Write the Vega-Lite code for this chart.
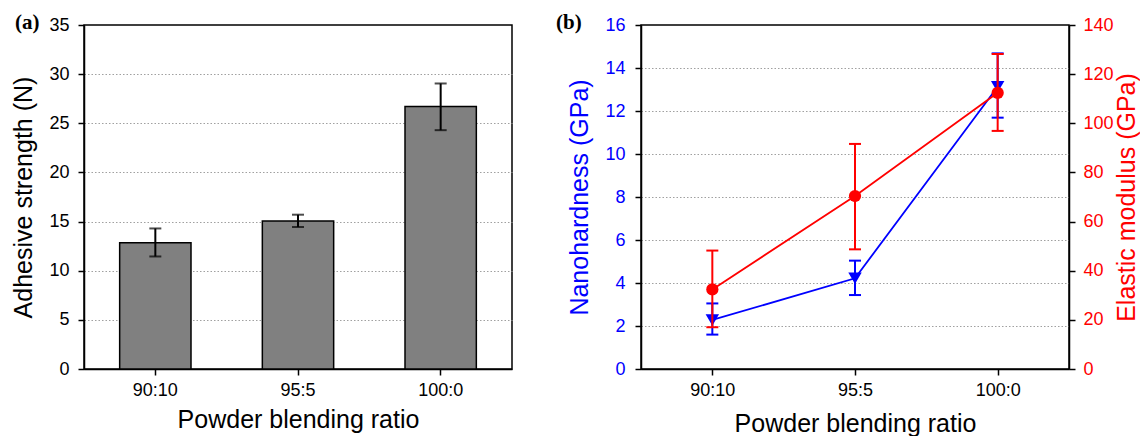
{
  "$schema": "https://vega.github.io/schema/vega-lite/v6.json",
  "background": "white",
  "padding": {"left": 11, "top": 11, "right": 0, "bottom": 0},
  "spacing": 42,
  "config": {
    "font": "Liberation Sans",
    "view": {"stroke": "black", "strokeWidth": 1.5},
    "axis": {
      "domainColor": "black", "domainWidth": 1.5,
      "tickColor": "black", "tickWidth": 1.5,
      "labelFontSize": 18, "labelColor": "black", "labelFont": "Liberation Sans",
      "titleFontSize": 25, "titleFontWeight": "normal", "titleColor": "black", "titleFont": "Liberation Sans",
      "gridColor": "#a0a0a0", "gridDash": [1.5, 2], "gridWidth": 1.2
    },
    "title": {"font": "Liberation Serif", "fontWeight": "bold", "fontSize": 21, "anchor": "start", "frame": "bounds", "offset": -17, "color": "black"}
  },
  "datasets": {
    "adh": [
      {"ratio": "90:10", "strength": 12.85, "lo": 11.45, "hi": 14.3},
      {"ratio": "95:5", "strength": 15.05, "lo": 14.45, "hi": 15.7},
      {"ratio": "100:0", "strength": 26.7, "lo": 24.3, "hi": 29.05}
    ],
    "nano": [
      {"ratio": "90:10", "hardness": 2.28, "hlo": 1.6, "hhi": 3.05, "modulus": 32.4, "mlo": 17.0, "mhi": 48.2},
      {"ratio": "95:5", "hardness": 4.22, "hlo": 3.44, "hhi": 5.04, "modulus": 70.4, "mlo": 48.7, "mhi": 91.6},
      {"ratio": "100:0", "hardness": 13.13, "hlo": 11.69, "hhi": 14.68, "modulus": 112.4, "mlo": 96.9, "mhi": 128.2}
    ]
  },
  "hconcat": [
    {
      "width": 428, "height": 344,
      "title": {"text": "(a)", "dx": 3},
      "data": {"name": "adh"},
      "encoding": {
        "x": {
          "field": "ratio", "type": "nominal", "sort": ["90:10", "95:5", "100:0"],
          "scale": {"paddingInner": 0.5, "paddingOuter": 0.25},
          "axis": {"title": "Powder blending ratio", "labelAngle": 0, "tickSize": 6, "labelPadding": 6, "titlePadding": 8}
        }
      },
      "layer": [
        {
          "mark": {"type": "bar", "color": "#808080", "stroke": "black", "strokeWidth": 1.5},
          "encoding": {
            "y": {
              "field": "strength", "type": "quantitative",
              "scale": {"domain": [0, 35], "nice": false},
              "axis": {
                "title": "Adhesive strength (N)",
                "values": [0, 2.5, 5, 7.5, 10, 12.5, 15, 17.5, 20, 22.5, 25, 27.5, 30, 32.5, 35],
                "labelExpr": "datum.value % 5 == 0 ? format(datum.value, 'd') : ''",
                "grid": true,
                "tickSize": {"condition": {"test": "datum.value % 5 == 0", "value": 6}, "value": 3},
                "gridOpacity": {"condition": {"test": "datum.value == 0 || datum.value == 35", "value": 0}, "value": 1},
                "labelPadding": 9, "titlePadding": 12
              }
            }
          }
        },
        {
          "mark": {"type": "rule", "color": "black", "strokeWidth": 2},
          "encoding": {"y": {"field": "lo", "type": "quantitative", "axis": {"title": "Adhesive strength (N)"}}, "y2": {"field": "hi"}}
        },
        {
          "mark": {"type": "tick", "color": "black", "thickness": 2, "size": 12},
          "encoding": {"y": {"field": "lo", "type": "quantitative", "axis": {"title": "Adhesive strength (N)"}}}
        },
        {
          "mark": {"type": "tick", "color": "black", "thickness": 2, "size": 12},
          "encoding": {"y": {"field": "hi", "type": "quantitative", "axis": {"title": "Adhesive strength (N)"}}}
        }
      ]
    },
    {
      "width": 428, "height": 344,
      "title": {"text": "(b)", "dx": -12},
      "data": {"name": "nano"},
      "encoding": {
        "x": {
          "field": "ratio", "type": "ordinal", "sort": ["90:10", "95:5", "100:0"],
          "scale": {"type": "point", "padding": 0.5},
          "axis": {"title": "Powder blending ratio", "labelAngle": 0, "tickSize": 6, "labelPadding": 6, "titlePadding": 12}
        }
      },
      "layer": [
        {
          "layer": [
            {
              "mark": {"type": "line", "color": "#0000ff", "strokeWidth": 1.8},
              "encoding": {
                "y": {
                  "field": "hardness", "type": "quantitative",
                  "scale": {"domain": [0, 16], "nice": false},
                  "axis": {
                    "title": "Nanohardness (GPa)", "titleColor": "#0000ff", "labelColor": "#0000ff",
                    "values": [0, 1, 2, 3, 4, 5, 6, 7, 8, 9, 10, 11, 12, 13, 14, 15, 16],
                    "labelExpr": "datum.value % 2 == 0 ? format(datum.value, 'd') : ''",
                    "grid": true,
                    "tickSize": {"condition": {"test": "datum.value % 2 == 0", "value": 6}, "value": 3},
                    "gridOpacity": {"condition": {"test": "datum.value == 0 || datum.value == 16", "value": 0}, "value": 1},
                    "labelPadding": 10, "titlePadding": 12
                  }
                }
              }
            },
            {
              "mark": {"type": "rule", "color": "#0000ff", "strokeWidth": 2},
              "encoding": {"y": {"field": "hlo", "type": "quantitative", "axis": {"title": "Nanohardness (GPa)"}}, "y2": {"field": "hhi"}}
            },
            {
              "mark": {"type": "tick", "color": "#0000ff", "thickness": 2, "size": 12, "opacity": 1},
              "encoding": {"y": {"field": "hlo", "type": "quantitative", "axis": {"title": "Nanohardness (GPa)"}}}
            },
            {
              "mark": {"type": "tick", "color": "#0000ff", "thickness": 2, "size": 12, "opacity": 1},
              "encoding": {"y": {"field": "hhi", "type": "quantitative", "axis": {"title": "Nanohardness (GPa)"}}}
            },
            {
              "mark": {"type": "point", "shape": "triangle-down", "filled": true, "color": "#0000ff", "size": 180, "opacity": 1},
              "encoding": {"y": {"field": "hardness", "type": "quantitative", "axis": {"title": "Nanohardness (GPa)"}}}
            }
          ]
        },
        {
          "layer": [
            {
              "mark": {"type": "line", "color": "#ff0000", "strokeWidth": 1.8},
              "encoding": {
                "y": {
                  "field": "modulus", "type": "quantitative",
                  "scale": {"domain": [0, 140], "nice": false},
                  "axis": {
                    "orient": "right",
                    "title": "Elastic modulus (GPa)", "titleColor": "#ff0000", "labelColor": "#ff0000",
                    "titleAngle": 270,
                    "values": [0, 10, 20, 30, 40, 50, 60, 70, 80, 90, 100, 110, 120, 130, 140],
                    "labelExpr": "datum.value % 20 == 0 ? format(datum.value, 'd') : ''",
                    "grid": false,
                    "tickSize": {"condition": {"test": "datum.value % 20 == 0", "value": 6}, "value": 3},
                    "labelPadding": 8, "titlePadding": 26
                  }
                }
              }
            },
            {
              "mark": {"type": "rule", "color": "#ff0000", "strokeWidth": 2},
              "encoding": {"y": {"field": "mlo", "type": "quantitative", "axis": {"title": "Elastic modulus (GPa)", "orient": "right"}}, "y2": {"field": "mhi"}}
            },
            {
              "mark": {"type": "tick", "color": "#ff0000", "thickness": 2, "size": 12, "opacity": 1},
              "encoding": {"y": {"field": "mlo", "type": "quantitative", "axis": {"title": "Elastic modulus (GPa)", "orient": "right"}}}
            },
            {
              "mark": {"type": "tick", "color": "#ff0000", "thickness": 2, "size": 12, "opacity": 1},
              "encoding": {"y": {"field": "mhi", "type": "quantitative", "axis": {"title": "Elastic modulus (GPa)", "orient": "right"}}}
            },
            {
              "mark": {"type": "point", "shape": "circle", "filled": true, "color": "#ff0000", "size": 150, "opacity": 1},
              "encoding": {"y": {"field": "modulus", "type": "quantitative", "axis": {"title": "Elastic modulus (GPa)", "orient": "right"}}}
            }
          ]
        }
      ],
      "resolve": {"scale": {"y": "independent"}}
    }
  ]
}
